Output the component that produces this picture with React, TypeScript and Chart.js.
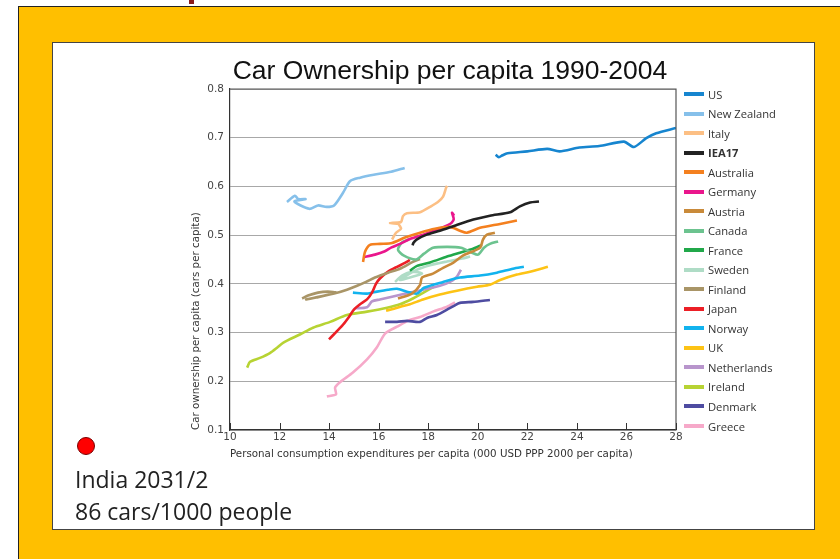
import React, { useEffect, useRef } from 'react';
import { Chart, registerables } from 'chart.js';

Chart.register(...registerables);

const TITLE = 'Car Ownership per capita 1990-2004';
const X_TITLE = 'Personal consumption expenditures per capita (000 USD PPP 2000 per capita)';
const Y_TITLE = 'Car ownership per capita (cars per capita)';
const X_TICKS = [10, 12, 14, 16, 18, 20, 22, 24, 26, 28];
const NOTE_LINES = ['India 2031/2', '86 cars/1000 people'];

const US_X = [20.72, 20.85, 21.0, 21.2, 22.0, 22.8, 23.3, 24.1, 24.9, 25.9, 26.3, 26.8, 27.2, 28.0];
const US_Y = [0.665, 0.660, 0.664, 0.668, 0.672, 0.677, 0.672, 0.680, 0.683, 0.692, 0.681, 0.699, 0.709, 0.720];

const NZ_X = [12.3, 12.62, 12.75, 13.05, 12.6, 13.2, 13.55, 13.9, 14.2, 14.55, 14.85, 15.25, 15.8, 16.5, 17.05];
const NZ_Y = [0.568, 0.581, 0.574, 0.574, 0.569, 0.554, 0.561, 0.558, 0.561, 0.586, 0.611, 0.618, 0.624, 0.630, 0.638];

const ITALY_X = [16.54, 16.70, 16.90, 16.78, 16.46, 16.90, 16.98, 17.14, 17.67, 18.07, 18.39, 18.60, 18.72, 18.76];
const ITALY_Y = [0.491, 0.505, 0.513, 0.523, 0.525, 0.527, 0.539, 0.545, 0.547, 0.558, 0.568, 0.579, 0.597, 0.601];

const IEA_X = [17.37, 17.40, 17.53, 17.94, 18.47, 19.15, 19.82, 20.49, 21.30, 21.70, 22.11, 22.47];
const IEA_Y = [0.479, 0.484, 0.491, 0.501, 0.509, 0.521, 0.532, 0.540, 0.547, 0.559, 0.567, 0.569];

const AUS_X = [15.37, 15.45, 15.65, 16.05, 16.54, 17.06, 17.67, 18.27, 18.88, 19.28, 19.56, 20.09, 20.90, 21.58];
const AUS_Y = [0.445, 0.466, 0.480, 0.482, 0.484, 0.495, 0.505, 0.513, 0.517, 0.509, 0.505, 0.515, 0.523, 0.530];

const GER_X = [15.38, 15.85, 16.25, 16.52, 16.86, 17.26, 17.80, 18.34, 18.81, 18.94, 19.03, 18.96, 19.05];
const GER_Y = [0.455, 0.460, 0.467, 0.475, 0.482, 0.492, 0.501, 0.511, 0.521, 0.525, 0.533, 0.546, 0.540];

const AUT_X = [16.78, 17.34, 17.67, 17.75, 18.19, 18.60, 19.0, 19.40, 20.09, 20.21, 20.37, 20.69];
const AUT_Y = [0.370, 0.380, 0.398, 0.413, 0.421, 0.433, 0.443, 0.458, 0.474, 0.491, 0.501, 0.505];

const CAN_X = [17.22, 16.94, 16.78, 17.02, 17.51, 17.83, 18.19, 18.76, 19.32, 19.77, 20.01, 20.25, 20.49, 20.82];
const CAN_Y = [0.491, 0.485, 0.470, 0.458, 0.450, 0.462, 0.474, 0.476, 0.474, 0.464, 0.460, 0.474, 0.482, 0.487];

const FRA_X = [17.26, 17.55, 18.07, 18.76, 19.28, 19.81, 20.17];
const FRA_Y = [0.427, 0.437, 0.444, 0.456, 0.464, 0.472, 0.480];

const SWE_X = [16.66, 16.94, 17.34, 17.75, 17.26, 16.86, 17.47, 18.07, 18.76, 19.36, 19.69];
const SWE_Y = [0.404, 0.417, 0.425, 0.421, 0.413, 0.408, 0.427, 0.438, 0.446, 0.452, 0.456];

const FIN_X = [12.91, 13.15, 13.55, 13.95, 14.28, 13.63, 13.07, 13.47, 14.20, 14.72, 15.13, 15.49, 15.85, 16.38, 16.86, 17.38, 17.67];
const FIN_Y = [0.370, 0.376, 0.382, 0.384, 0.382, 0.374, 0.368, 0.372, 0.380, 0.388, 0.396, 0.404, 0.413, 0.423, 0.431, 0.445, 0.451];

const JPN_X = [13.995, 14.28, 14.56, 14.80, 15.0, 15.25, 15.53, 15.73, 15.89, 16.05, 16.38, 16.74, 17.06, 17.26];
const JPN_Y = [0.286, 0.301, 0.316, 0.332, 0.347, 0.358, 0.368, 0.382, 0.400, 0.411, 0.425, 0.435, 0.443, 0.449];

const NOR_X = [14.96, 15.53, 15.93, 16.38, 16.74, 17.14, 17.55, 17.83, 18.60, 19.28, 20.09, 20.77, 21.42, 21.86];
const NOR_Y = [0.382, 0.380, 0.384, 0.388, 0.390, 0.384, 0.380, 0.392, 0.404, 0.413, 0.417, 0.423, 0.431, 0.435];

const UK_X = [16.30, 16.62, 16.94, 17.26, 17.79, 18.47, 19.16, 19.97, 20.49, 20.90, 21.58, 22.11, 22.83];
const UK_Y = [0.345, 0.349, 0.354, 0.358, 0.368, 0.378, 0.386, 0.394, 0.398, 0.408, 0.419, 0.425, 0.435];

const NLD_X = [15.04, 15.53, 15.73, 16.05, 16.58, 17.26, 17.79, 18.47, 18.88, 19.16, 19.32];
const NLD_Y = [0.350, 0.352, 0.364, 0.368, 0.374, 0.382, 0.388, 0.396, 0.404, 0.415, 0.429];

const IRL_X = [10.69, 10.81, 11.21, 11.61, 11.90, 12.14, 12.82, 13.35, 14.04, 14.72, 15.53, 16.34, 16.86, 17.38, 17.95, 18.23];
const IRL_Y = [0.228, 0.240, 0.248, 0.258, 0.269, 0.279, 0.296, 0.310, 0.322, 0.336, 0.343, 0.351, 0.358, 0.370, 0.386, 0.394];

const DNK_X = [16.26, 16.74, 17.14, 17.67, 17.95, 18.35, 18.76, 19.04, 19.28, 19.81, 20.49];
const DNK_Y = [0.322, 0.322, 0.324, 0.322, 0.330, 0.336, 0.347, 0.355, 0.361, 0.363, 0.367];

const GRC_X = [13.91, 14.28, 14.24, 14.44, 14.96, 15.53, 15.93, 16.26, 16.74, 17.26, 17.67, 18.19, 18.76, 19.08];
const GRC_Y = [0.169, 0.173, 0.187, 0.198, 0.218, 0.245, 0.270, 0.298, 0.312, 0.326, 0.332, 0.343, 0.353, 0.362];

const SERIES_NAMES = ['US', 'New Zealand', 'Italy', 'IEA17', 'Australia', 'Germany', 'Austria', 'Canada', 'France', 'Sweden', 'Finland', 'Japan', 'Norway', 'UK', 'Netherlands', 'Ireland', 'Denmark', 'Greece'];
const SERIES_X = [US_X, NZ_X, ITALY_X, IEA_X, AUS_X, GER_X, AUT_X, CAN_X, FRA_X, SWE_X, FIN_X, JPN_X, NOR_X, UK_X, NLD_X, IRL_X, DNK_X, GRC_X];
const SERIES_Y = [US_Y, NZ_Y, ITALY_Y, IEA_Y, AUS_Y, GER_Y, AUT_Y, CAN_Y, FRA_Y, SWE_Y, FIN_Y, JPN_Y, NOR_Y, UK_Y, NLD_Y, IRL_Y, DNK_Y, GRC_Y];
const SERIES_COLORS = ['#1685cf', '#86c0ea', '#fcbf84', '#222222', '#f4801f', '#ea168c', '#c98a3a', '#6cc38f', '#21a84a', '#afdcc6', '#a99567', '#ec1f26', '#12b3ee', '#fdc315', '#b895cc', '#b7d333', '#4e4ca1', '#f6a9c9'];

const framePlugin = {
  id: 'framePlugin',
  afterDraw(chart: any) {
    const { ctx, chartArea } = chart;
    const xs = chart.scales.x;
    ctx.save();
    ctx.strokeStyle = '#555';
    ctx.lineWidth = 1.2;
    ctx.beginPath();
    ctx.moveTo(chartArea.left, chartArea.top);
    ctx.lineTo(chartArea.right, chartArea.top);
    ctx.lineTo(chartArea.right, chartArea.bottom);
    ctx.stroke();
    ctx.strokeStyle = '#333';
    ctx.lineWidth = 1;
    for (const v of X_TICKS) {
      const px = Math.round(xs.getPixelForValue(v)) + 0.5;
      ctx.beginPath();
      ctx.moveTo(px, chartArea.bottom);
      ctx.lineTo(px, chartArea.bottom - 7);
      ctx.stroke();
    }
    ctx.fillStyle = '#111';
    ctx.font = '26.5px "Liberation Sans", Arial, sans-serif';
    ctx.textAlign = 'center';
    ctx.textBaseline = 'alphabetic';
    ctx.fillText(TITLE, 450, 79);
    ctx.restore();
  },
};

export default function App() {
  const ref = useRef<HTMLCanvasElement>(null);

  useEffect(() => {
    const datasets = SERIES_NAMES.map((name, i) => ({
      label: name,
      data: SERIES_X[i].map((x, j) => ({ x, y: SERIES_Y[i][j] })),
      borderColor: SERIES_COLORS[i],
      backgroundColor: SERIES_COLORS[i],
      borderWidth: 2.6,
      pointRadius: 0,
      showLine: true,
      tension: 0.25,
      fill: false,
    }));
    const chart = new Chart(ref.current!, {
      type: 'scatter',
      data: { datasets },
      options: {
        animation: false,
        responsive: false,
        layout: { padding: { left: 190, right: 164, top: 89, bottom: 98 } },
        plugins: { legend: { display: false }, tooltip: { enabled: false }, title: { display: false } },
        scales: {
          x: {
            type: 'linear',
            min: 10,
            max: 28,
            afterFit: (s: any) => { s.height = 31; },
            ticks: { stepSize: 2, font: { family: 'DejaVu Sans', size: 10.5 }, color: '#444', padding: 1, maxRotation: 0, autoSkip: false },
            grid: { display: true, drawOnChartArea: false, drawTicks: false },
            border: { display: true, color: '#333', width: 1.2 },
            title: { display: true, text: X_TITLE, align: 'start', font: { family: 'DejaVu Sans', size: 10.3 }, color: '#333', padding: 0 },
          },
          y: {
            type: 'linear',
            min: 0.1,
            max: 0.8,
            afterFit: (s: any) => { s.width = 40; },
            ticks: { stepSize: 0.1, callback: (v: any) => Number(v).toFixed(1), font: { family: 'DejaVu Sans', size: 10.5 }, color: '#444', padding: 6 },
            grid: { color: '#a8a8a8', lineWidth: 1, drawTicks: false },
            border: { display: true, color: '#333', width: 1.2 },
            title: { display: true, text: Y_TITLE, align: 'start', font: { family: 'DejaVu Sans', size: 10.3 }, color: '#333', padding: 0 },
          },
        },
      },
      plugins: [framePlugin],
    } as any);
    return () => chart.destroy();
  }, []);

  return (
    <div style={{ position: 'absolute', left: 0, top: 0, width: 840, height: 559, background: '#fff', overflow: 'hidden' }}>
      <div style={{ position: 'absolute', left: 18, top: 6, right: 0, bottom: 0, background: '#FFBF00', borderTop: '1px solid #222', borderLeft: '1px solid #222' }} />
      <div style={{ position: 'absolute', left: 189, top: 0, width: 5, height: 4, background: '#8b1a1a' }} />
      <div style={{ position: 'absolute', left: 52, top: 42, width: 763, height: 488, boxSizing: 'border-box', background: '#fff', border: '1px solid #444' }} />
      <canvas ref={ref} width={840} height={559} style={{ position: 'absolute', left: 0, top: 0, width: 840, height: 559 }} />
      {SERIES_NAMES.map((name, i) => (
        <div key={name} style={{ position: 'absolute', left: 684, top: 94 + i * 19.53 - 8, height: 16, display: 'flex', alignItems: 'center', fontFamily: '"Open Sans", sans-serif', fontSize: 11.2, color: '#333', fontWeight: name === 'IEA17' ? 700 : 400, whiteSpace: 'nowrap' }}>
          <span style={{ display: 'inline-block', width: 20, height: 4, background: SERIES_COLORS[i], marginRight: 4 }} />
          <span>{name}</span>
        </div>
      ))}
      <div style={{ position: 'absolute', left: 77, top: 437, width: 18, height: 18, boxSizing: 'border-box', borderRadius: '50%', background: '#ff0000', border: '1px solid #7a0000' }} />
      <div style={{ position: 'absolute', left: 75, top: 463, fontFamily: '"Open Sans", sans-serif', fontSize: 23, lineHeight: '32px', color: '#222', whiteSpace: 'nowrap' }}>
        {NOTE_LINES.map((t) => (<div key={t}>{t}</div>))}
      </div>
    </div>
  );
}
